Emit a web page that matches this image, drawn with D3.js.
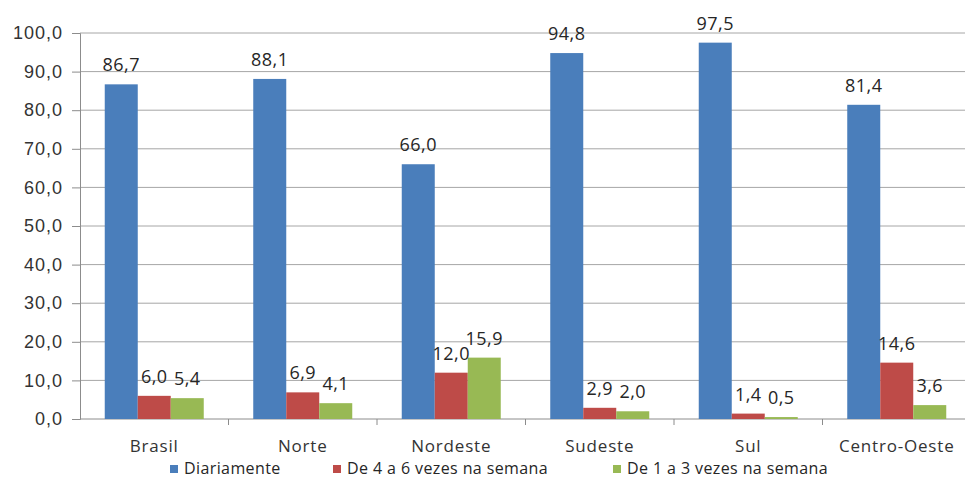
<!DOCTYPE html>
<html>
<head>
<meta charset="utf-8">
<script src="https://cdn.jsdelivr.net/npm/d3@7"></script>
<style>
  body { margin: 0; background: #fff; }
  svg { display: block; font-family: "Open Sans", "Liberation Sans", sans-serif; }
  .axis text { fill: #333; }
</style>
</head>
<body>
<svg class="chart" width="965" height="478"></svg>
<script>
var regioes = ["Brasil", "Norte", "Nordeste", "Sudeste", "Sul", "Centro-Oeste"];
var series = ["Diariamente", "De 4 a 6 vezes na semana", "De 1 a 3 vezes na semana"];
var diariamente = [86.7, 88.1, 66.0, 94.8, 97.5, 81.4];
var de4a6 = [6.0, 6.9, 12.0, 2.9, 1.4, 14.6];
var de1a3 = [5.4, 4.1, 15.9, 2.0, 0.5, 3.6];
var yTicks = [0, 10, 20, 30, 40, 50, 60, 70, 80, 90, 100];

var colors = ["#4a7ebb", "#be4b48", "#98b954"];

// plot box (window.top is read-only, so no bare "top")
var plotLeft = 80, plotRight = 971, plotTop = 33, plotBottom = 419;

var svg = d3.select(".chart");

var x = d3.scaleBand()
    .domain(regioes)
    .range([plotLeft, plotRight]);

var xs = d3.scaleBand()
    .domain(series)
    .range([0, x.bandwidth()])
    .paddingOuter(0.75);

var y = d3.scaleLinear()
    .domain([0, 100])
    .range([plotBottom, plotTop]);

var fmt = function(v) { return v.toFixed(1).replace(".", ","); };

// grid lines
svg.append("g")
    .selectAll("line")
    .data(yTicks.slice(1))
  .enter().append("line")
    .attr("x1", plotLeft)
    .attr("x2", plotRight)
    .attr("y1", function(d) { return y(d); })
    .attr("y2", function(d) { return y(d); })
    .attr("stroke", "#a6a6a6")
    .attr("stroke-width", 1);

var yAxis = d3.axisLeft(y)
    .tickValues(yTicks)
    .tickSize(8)
    .tickPadding(9)
    .tickFormat(fmt);

svg.append("g")
    .attr("class", "axis")
    .attr("transform", "translate(" + plotLeft + ",0)")
    .call(yAxis)
    .call(function(g) {
      g.selectAll("line, path").attr("stroke", "#8c8c8c");
      g.selectAll("text")
        .style("font-size", "18px")
        .style("letter-spacing", "1px");
    });

// x axis
var xg = svg.append("g")
    .attr("class", "axis")
    .attr("transform", "translate(0," + plotBottom + ")");

xg.append("line")
    .attr("x1", plotLeft).attr("x2", plotRight)
    .attr("stroke", "#8c8c8c");

xg.selectAll(".tick")
    .data(regioes.slice(1))
  .enter().append("line")
    .attr("x1", function(d) { return x(d); })
    .attr("x2", function(d) { return x(d); })
    .attr("y1", 0).attr("y2", 6)
    .attr("stroke", "#8c8c8c");

xg.selectAll("text")
    .data(regioes)
  .enter().append("text")
    .attr("x", function(d) { return x(d) + x.bandwidth() / 2; })
    .attr("y", 33)
    .style("text-anchor", "middle")
    .style("font-size", "17px")
    .style("letter-spacing", "0.8px")
    .text(function(d) { return d; });

var rows = [];
regioes.forEach(function(r, i) {
  rows.push({ regiao: r, serie: series[0], value: diariamente[i], c: 0 });
  rows.push({ regiao: r, serie: series[1], value: de4a6[i], c: 1 });
  rows.push({ regiao: r, serie: series[2], value: de1a3[i], c: 2 });
});

svg.selectAll(".bar")
    .data(rows)
  .enter().append("rect")
    .attr("class", "bar")
    .attr("x", function(d) { return x(d.regiao) + xs(d.serie); })
    .attr("width", xs.bandwidth())
    .attr("y", function(d) { return y(d.value); })
    .attr("height", function(d) { return plotBottom - y(d.value); })
    .attr("fill", function(d) { return colors[d.c]; });

svg.selectAll(".val")
    .data(rows)
  .enter().append("text")
    .attr("class", "val")
    .attr("x", function(d) { return x(d.regiao) + xs(d.serie) + xs.bandwidth() / 2; })
    .attr("y", function(d) { return y(d.value) - 13; })
    .style("text-anchor", "middle")
    .style("font-size", "18px")
    .style("letter-spacing", "0.5px")
    .attr("fill", "#262626")
    .text(function(d) { return fmt(d.value); });

// legend
var legendX = [170, 333, 613];
var legend = svg.selectAll(".legend")
    .data(series)
  .enter().append("g")
    .attr("class", "legend")
    .attr("transform", function(d, i) { return "translate(" + legendX[i] + ",464)"; });

legend.append("rect")
    .attr("width", 8)
    .attr("height", 8)
    .attr("y", 1)
    .attr("fill", function(d, i) { return colors[i]; });

legend.append("text")
    .attr("x", 14)
    .attr("y", 10)
    .style("font-size", "16px")
    .style("letter-spacing", "0.4px")
    .attr("fill", "#262626")
    .text(function(d) { return d; });
</script>
</body>
</html>
